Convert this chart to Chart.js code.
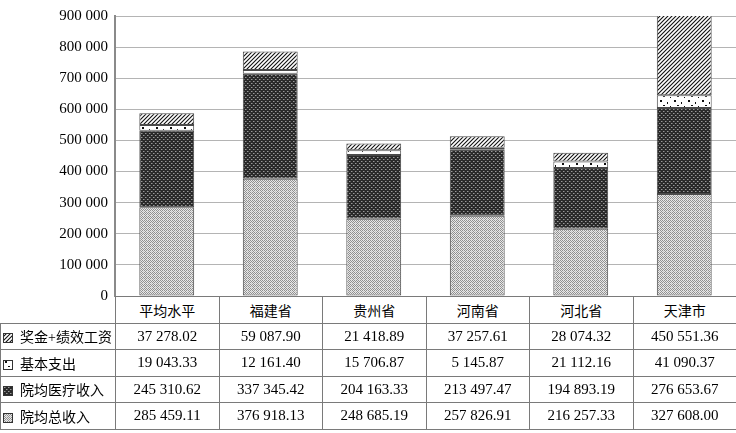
<!DOCTYPE html>
<html>
<head>
<meta charset="utf-8">
<script src="https://cdn.jsdelivr.net/npm/chart.js@4/dist/chart.umd.min.js"></script>
<style>
  body { margin: 0; background: #fff; }
  #wrap { position: relative; width: 736px; height: 433px; }
  #chart { position: absolute; left: 0; top: 0; }
  #tbl { position: absolute; left: 0; border-collapse: collapse; table-layout: fixed;
         font-family: "Liberation Serif", "Noto Sans CJK SC", serif; font-size: 15px; color: #000; }
  #tbl td { border: 1px solid #7a7a7a; text-align: center; padding: 0; height: 25.5px; white-space: nowrap; background: #fff; }
  #tbl td.lab { text-align: left; padding-left: 2px; font-size: 14px; }
  #tbl td.head { font-size: 14px; }
  #tbl td.blank { border-left: none; border-top: none; background: transparent; }
  #tbl canvas { vertical-align: -1px; margin-right: 7px; }
</style>
</head>
<body>
<div id="wrap">
  <canvas id="chart" width="736" height="312"></canvas>
  <table id="tbl"></table>
</div>
<script>
const categories = ['平均水平', '福建省', '贵州省', '河南省', '河北省', '天津市'];
const totalIncome = [285459.11, 376918.13, 248685.19, 257826.91, 216257.33, 327608.00];
const medicalIncome = [245310.62, 337345.42, 204163.33, 213497.47, 194893.19, 276653.67];
const basicSpend = [19043.33, 12161.40, 15706.87, 5145.87, 21112.16, 41090.37];
const bonusPay = [37278.02, 59087.90, 21418.89, 37257.61, 28074.32, 450551.36];
const yTicks = [0, 100000, 200000, 300000, 400000, 500000, 600000, 700000, 800000, 900000];

function fmt(v, dec) {
    let s = v.toFixed(dec);
    let parts = s.split('.');
    parts[0] = parts[0].replace(/\B(?=(\d{3})+(?!\d))/g, ' ');
    return parts.join('.');
}

// little tiles for the fill patterns
function makeTile(kind) {
    let c = document.createElement('canvas');
    let g = c.getContext('2d');
    if (kind == 'light') {
        c.width = 4; c.height = 4;
        g.fillStyle = '#e8e8e8'; g.fillRect(0, 0, 4, 4);
        g.fillStyle = '#909090';
        g.fillRect(0, 0, 1, 1); g.fillRect(2, 0, 1, 1); g.fillRect(1, 1, 1, 1); g.fillRect(3, 1, 1, 1);
        g.fillRect(0, 2, 1, 1); g.fillRect(2, 2, 1, 1); g.fillRect(1, 3, 1, 1);
        g.fillStyle = '#c4c4c4'; g.fillRect(3, 3, 1, 1);
    } else if (kind == 'dark') {
        c.width = 4; c.height = 4;
        g.fillStyle = '#2a2a2a'; g.fillRect(0, 0, 4, 4);
        g.fillStyle = '#9a9a9a';
        g.fillRect(1, 1, 1, 1); g.fillRect(3, 3, 1, 1);
        g.fillStyle = '#606060';
        g.fillRect(2, 1, 1, 1); g.fillRect(0, 3, 1, 1);
    } else if (kind == 'dots') {
        c.width = 14; c.height = 9;
        g.fillStyle = '#fff'; g.fillRect(0, 0, 14, 9);
        g.fillStyle = '#111';
        g.fillRect(2, 1, 2, 2); g.fillRect(9, 3, 1, 2); g.fillRect(5, 6, 2, 1); g.fillRect(12, 7, 1, 1);
    } else {
        c.width = 4; c.height = 4;
        g.fillStyle = '#fff'; g.fillRect(0, 0, 4, 4);
        g.strokeStyle = '#111'; g.lineWidth = 1.1;
        g.beginPath();
        g.moveTo(-1, 5); g.lineTo(5, -1);
        g.moveTo(-1, 1); g.lineTo(1, -1);
        g.moveTo(3, 5); g.lineTo(5, 3);
        g.stroke();
    }
    return c;
}

const ctx = document.getElementById('chart').getContext('2d');
const pats = {
    light: ctx.createPattern(makeTile('light'), 'repeat'),
    dark: ctx.createPattern(makeTile('dark'), 'repeat'),
    dots: ctx.createPattern(makeTile('dots'), 'repeat'),
    hatch: ctx.createPattern(makeTile('hatch'), 'repeat'),
};

const series = [
    { label: '院均总收入', data: totalIncome, kind: 'light' },
    { label: '院均医疗收入', data: medicalIncome, kind: 'dark' },
    { label: '基本支出', data: basicSpend, kind: 'dots' },
    { label: '奖金+绩效工资', data: bonusPay, kind: 'hatch' },
];

const chart = new Chart(ctx, {
    type: 'bar',
    data: {
        labels: categories,
        datasets: series.map(s => ({
            label: s.label,
            data: s.data,
            backgroundColor: pats[s.kind],
            borderColor: '#4a4a4a',
            borderWidth: 1,
            borderSkipped: false,
            categoryPercentage: 1,
            barPercentage: 0.53,
        })),
    },
    options: {
        responsive: false,
        animation: false,
        layout: { padding: { top: 7, right: 0, left: 0, bottom: 0 } },
        plugins: { legend: { display: false }, tooltip: { enabled: false } },
        scales: {
            x: {
                stacked: true,
                ticks: { display: false },
                grid: { display: false },
                border: { display: true, color: '#555', width: 1 },
                afterFit: (scale) => { scale.height = 4; },
            },
            y: {
                stacked: true,
                min: 0,
                max: 900000,
                afterBuildTicks: (scale) => { scale.ticks = yTicks.map(v => ({ value: v })); },
                ticks: {
                    padding: 7,
                    color: '#000',
                    font: { family: 'Liberation Serif', size: 15 },
                    callback: (v) => fmt(v, 0),
                },
                grid: { color: '#b4b4b4', drawTicks: false },
                border: { display: true, color: '#8a8a8a', width: 2 },
                afterFit: (scale) => { scale.width = 115; },
            },
        },
    },
});

// data table under the plot, columns follow the x scale
const area = chart.chartArea;
const colW = (area.right - area.left) / categories.length;
const tbl = document.getElementById('tbl');
let html = '<colgroup><col style="width:' + area.left + 'px">';
categories.forEach(() => { html += '<col style="width:' + colW + 'px">'; });
html += '</colgroup><tr><td class="blank"></td>';
categories.forEach(c => { html += '<td class="head">' + c + '</td>'; });
html += '</tr>';
const rows = series.slice().reverse();
rows.forEach((s, i) => {
    html += '<tr><td class="lab"><canvas id="sw' + i + '" width="10" height="10"></canvas>' + s.label + '</td>';
    s.data.forEach(v => { html += '<td>' + fmt(v, 2) + '</td>'; });
    html += '</tr>';
});
tbl.innerHTML = html;
tbl.style.width = area.right + 'px';
tbl.style.top = Math.round(area.bottom) + 'px';
rows.forEach((s, i) => {
    let sc = document.getElementById('sw' + i);
    let g = sc.getContext('2d');
    g.fillStyle = g.createPattern(makeTile(s.kind), 'repeat');
    g.fillRect(0, 0, 10, 10);
    g.strokeStyle = '#333';
    g.strokeRect(0.5, 0.5, 9, 9);
});
</script>
</body>
</html>
